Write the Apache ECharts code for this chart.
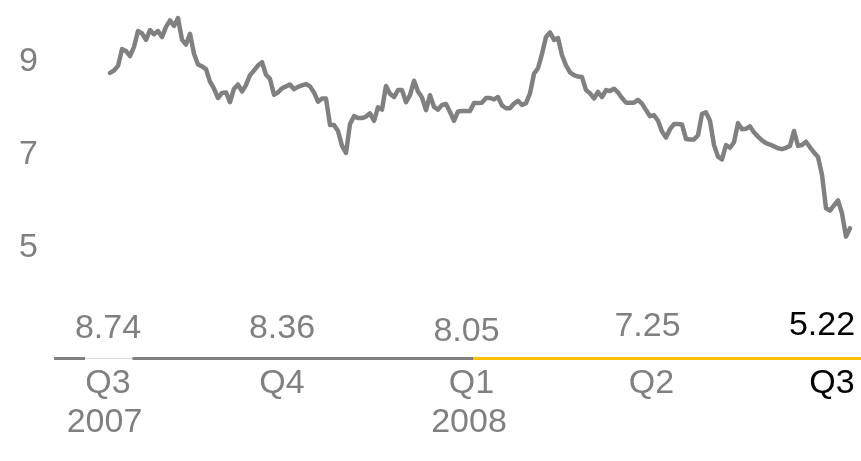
<!DOCTYPE html>
<html>
<head>
<meta charset="utf-8">
<style>
  html, body { margin: 0; padding: 0; background: #ffffff; }
  #chart { width: 861px; height: 461px; }
</style>
<script src="https://cdn.jsdelivr.net/npm/echarts@6/dist/echarts.min.js"></script>
</head>
<body>
<div id="chart"></div>
<script>
// Quarter columns along the bottom strip
const quarterNames = ['Q3', 'Q4', 'Q1', 'Q2', 'Q3'];
const quarterYears = ['2007', '', '2008', '', ''];
const quarterValues = [8.74, 8.36, 8.05, 7.25, 5.22];

// Value-axis labels shown on the left
const yTickLabels = [5, 7, 9];

// Price path, Jul 2007 - Jul 2008
const price = [
  8.76, 8.81, 8.91, 9.27, 9.23, 9.12, 9.32, 9.66, 9.61, 9.47,
  9.68, 9.59, 9.66, 9.53, 9.75, 9.89, 9.77, 9.94, 9.47, 9.37,
  9.60, 9.17, 8.94, 8.90, 8.84, 8.57, 8.42, 8.22, 8.33, 8.34,
  8.13, 8.42, 8.51, 8.36, 8.50, 8.71, 8.81, 8.92, 8.99, 8.72,
  8.63, 8.29, 8.34, 8.43, 8.47, 8.51, 8.41, 8.46, 8.49, 8.52,
  8.47, 8.34, 8.14, 8.21, 8.21, 7.64, 7.64, 7.51, 7.19, 7.04,
  7.66, 7.83, 7.79, 7.79, 7.82, 7.89, 7.73, 8.02, 7.97, 8.48,
  8.31, 8.24, 8.39, 8.39, 8.13, 8.28, 8.59, 8.36, 8.23, 7.96,
  8.28, 8.03, 7.97, 8.07, 8.09, 7.92, 7.73, 7.93, 7.94, 7.94,
  7.94, 8.11, 8.11, 8.12, 8.22, 8.22, 8.19, 8.24, 8.06, 8.00,
  8.00, 8.10, 8.16, 8.07, 8.11, 8.32, 8.74, 8.86, 9.17, 9.53,
  9.63, 9.47, 9.51, 9.14, 8.92, 8.77, 8.71, 8.68, 8.67, 8.39,
  8.32, 8.21, 8.35, 8.24, 8.39, 8.37, 8.42, 8.34, 8.22, 8.12,
  8.12, 8.12, 8.18, 8.10, 7.96, 7.83, 7.85, 7.73, 7.50, 7.37,
  7.55, 7.66, 7.66, 7.65, 7.34, 7.33, 7.33, 7.42, 7.88, 7.91,
  7.73, 7.21, 6.96, 6.90, 7.21, 7.15, 7.27, 7.68, 7.55, 7.56,
  7.61, 7.48, 7.39, 7.31, 7.25, 7.22, 7.18, 7.14, 7.12, 7.15,
  7.19, 7.51, 7.19, 7.21, 7.28, 7.16, 7.05, 6.95, 6.57, 5.85,
  5.80, 5.91, 6.02, 5.74, 5.24, 5.42
];

// Bottom strip axis runs in quarter units (0 = first quarter column)
const stripStart = -0.2983;
const stripEnd = 4.1602;
const highlightFrom = 2.02;      // highlighted period starts here
const gapFrom = -0.127, gapTo = 0.135;

const GREY = '#808080';
const GOLD = '#FFC000';
const FONT = 'Liberation Sans, Arial, Helvetica, sans-serif';
const FS = 34;

// small per-column nudges for the text in the strip
const valueNudge = [[0, -29.5], [-7, -29.5], [-3.5, -26.8], [-3.5, -31.8], [-10, -32.7]];
const quarterNudge = [[0, 25], [-7, 25], [1.5, 25], [0.5, 25], [0, 25]];
const yearNudge = [[-3.5, 64.5], [0, 64.5], [-1, 64.5], [0, 64.5], [0, 64.5]];
const lastIdx = quarterNames.length - 1;

function textSeries(texts, nudges) {
  return {
    type: 'scatter',
    xAxisIndex: 1,
    yAxisIndex: 1,
    symbolSize: 1,
    itemStyle: { color: 'rgba(0,0,0,0)', opacity: 1 },
    silent: true,
    z: 5,
    data: texts.map(function (t, i) {
      return {
        value: [i, 0],
        label: {
          show: t !== '',
          position: 'inside',
          offset: nudges[i],
          formatter: String(t),
          color: i === lastIdx ? '#000000' : GREY,
          opacity: 1,
          fontFamily: FONT,
          fontSize: FS
        }
      };
    })
  };
}

function segment(from, to, color, width) {
  return {
    type: 'line',
    xAxisIndex: 1,
    yAxisIndex: 1,
    symbol: 'none',
    silent: true,
    clip: false,
    lineStyle: { color: color, width: width, cap: 'butt' },
    data: [[from, 0], [to, 0]]
  };
}

const chart = echarts.init(document.getElementById('chart'), null, { renderer: 'canvas' });

chart.setOption({
  animation: false,
  backgroundColor: '#ffffff',
  grid: [
    { left: 110, right: 11, top: 15.2, height: 279.1 },
    { left: 54, right: 0, top: 357.5, height: 2 }
  ],
  xAxis: [
    {
      type: 'category',
      gridIndex: 0,
      boundaryGap: false,
      data: price.map(function (_, i) { return i; }),
      show: false
    },
    {
      type: 'value',
      gridIndex: 1,
      min: stripStart,
      max: stripEnd,
      show: false
    }
  ],
  yAxis: [
    {
      type: 'value',
      gridIndex: 0,
      min: 4,
      max: 10,
      interval: 1,
      axisLine: { show: false },
      axisTick: { show: false },
      splitLine: { show: false },
      axisLabel: {
        margin: 72,
        color: GREY,
        fontFamily: FONT,
        fontSize: FS,
        formatter: function (v) { return yTickLabels.indexOf(v) >= 0 ? String(v) : ''; }
      }
    },
    {
      type: 'value',
      gridIndex: 1,
      min: -1,
      max: 1,
      show: false
    }
  ],
  series: [
    {
      type: 'line',
      xAxisIndex: 0,
      yAxisIndex: 0,
      data: price,
      symbol: 'none',
      silent: true,
      lineStyle: { color: GREY, width: 4.5, join: 'round', cap: 'round' }
    },
    segment(stripStart, gapFrom, GREY, 3),
    segment(gapFrom, gapTo, '#dedede', 1),
    segment(gapTo, highlightFrom, GREY, 3),
    segment(highlightFrom, stripEnd, GOLD, 3),
    textSeries(quarterValues.map(function (v) { return v.toFixed(2); }), valueNudge),
    textSeries(quarterNames, quarterNudge),
    textSeries(quarterYears, yearNudge)
  ]
});
</script>
</body>
</html>
